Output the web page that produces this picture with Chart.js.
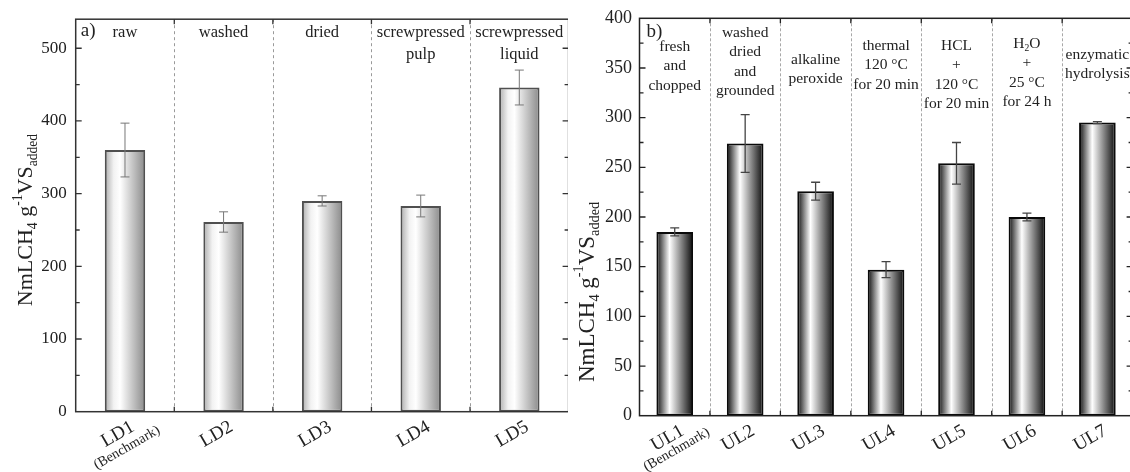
<!DOCTYPE html>
<html lang="en">
<head>
<meta charset="UTF-8">
<title>Methane yield - LD and UL pretreatments</title>
<script src="https://cdn.jsdelivr.net/npm/chart.js"></script>
<style>
    body { margin: 0; background: #fff; }
    #wrap { position: relative; width: 1130px; height: 472px; overflow: hidden; background: #fff; }
    #chartA { position: absolute; left: 0; top: 0; }
    #chartB { position: absolute; left: 568px; top: 0; background: #fff; }
</style>
</head>
<body>
<div id="wrap">
    <canvas id="chartA" width="570" height="472"></canvas>
    <canvas id="chartB" width="566" height="472"></canvas>
</div>
<script>
// panel a) - LD samples
const catsA = ['LD1', 'LD2', 'LD3', 'LD4', 'LD5'];
const valuesA = [360, 261, 290, 283, 446];
const errorsA = [37, 14, 7, 15, 24];
const notesA = [['raw'], ['washed'], ['dried'], ['screwpressed', 'pulp'], ['screwpressed', 'liquid']];
const yTicksA = { min: 0, max: 540, step: 100, minor: 50 };

// panel b) - UL samples
const catsB = ['UL1', 'UL2', 'UL3', 'UL4', 'UL5', 'UL6', 'UL7'];
const valuesB = [185, 274, 226, 147, 254, 200, 295];
const errorsB = [4, 29, 9, 8, 21, 4, 1];
const notesB = [
    ['fresh', 'and', 'chopped'],
    ['washed', 'dried', 'and', 'grounded'],
    ['alkaline', 'peroxide'],
    ['thermal', '120 °C', 'for 20 min'],
    ['HCL', '+', '120 °C', 'for 20 min'],
    ['H_2O', '+', '25 °C', 'for 24 h'],
    ['enzymatic', 'hydrolysis']
];
const yTicksB = { min: 0, max: 400, step: 50, minor: 25 };

const benchmarkNote = '(Benchmark)';
const yTitle = 'NmLCH_4 g^{-1}VS_{added}';

// first-line offsets of the notes above the bars
const noteTopA = [33, 33, 33, 33, 33];
const noteTopB = [47, 33, 60, 46, 46, 44, 55];

const SERIF = 'Liberation Serif, Times New Roman, serif';

// "_x" / "_{..}" -> subscript, "^x" / "^{..}" -> superscript
function parseRich(str) {
    const segs = [];
    let buf = '', i = 0;
    while (i < str.length) {
        const c = str[i];
        if (c === '_' || c === '^') {
            if (buf) { segs.push({ t: buf, s: 0 }); buf = ''; }
            let t;
            if (str[i + 1] === '{') {
                const j = str.indexOf('}', i);
                t = str.slice(i + 2, j);
                i = j + 1;
            } else {
                t = str[i + 1];
                i += 2;
            }
            segs.push({ t: t, s: c === '_' ? 1 : 2 });
        } else {
            buf += c;
            i++;
        }
    }
    if (buf) segs.push({ t: buf, s: 0 });
    return segs;
}

// draws rich text centred on (x, y)
function drawRich(ctx, str, x, y, size) {
    const segs = parseRich(str);
    const small = size * 0.62;
    let total = 0;
    segs.forEach(function (s) {
        ctx.font = (s.s ? small : size) + 'px ' + SERIF;
        s.w = ctx.measureText(s.t).width;
        total += s.w;
    });
    let cx = x - total / 2;
    ctx.textAlign = 'left';
    ctx.textBaseline = 'middle';
    segs.forEach(function (s) {
        ctx.font = (s.s ? small : size) + 'px ' + SERIF;
        let dy = 0;
        if (s.s === 1) dy = size * 0.32;
        if (s.s === 2) dy = -size * 0.36;
        ctx.fillText(s.t, cx, y + dy);
        cx += s.w;
    });
}

const decoPlugin = {
    id: 'deco',
    beforeDatasetsDraw(chart, args, o) {
        const ctx = chart.ctx, a = chart.chartArea, x = chart.scales.x;
        const step = x.getPixelForValue(1) - x.getPixelForValue(0);
        ctx.save();
        ctx.strokeStyle = o.dashColor;
        ctx.lineWidth = 1;
        ctx.setLineDash(o.dash);
        for (let i = 0; i < x.ticks.length - 1; i++) {
            const bx = Math.round(x.getPixelForValue(i) + step / 2) + 0.5;
            ctx.beginPath();
            ctx.moveTo(bx, a.top);
            ctx.lineTo(bx, a.bottom);
            ctx.stroke();
        }
        ctx.restore();
    },
    afterDatasetsDraw(chart, args, o) {
        const ctx = chart.ctx, a = chart.chartArea;
        const x = chart.scales.x, y = chart.scales.y;
        const step = x.getPixelForValue(1) - x.getPixelForValue(0);
        ctx.save();

        // error bars
        ctx.strokeStyle = o.errColor;
        ctx.lineWidth = o.errWidth;
        o.values.forEach(function (v, i) {
            const cx = x.getPixelForValue(i);
            const y1 = y.getPixelForValue(v + o.errors[i]);
            const y2 = y.getPixelForValue(v - o.errors[i]);
            ctx.beginPath();
            ctx.moveTo(cx, y1); ctx.lineTo(cx, y2);
            ctx.moveTo(cx - o.cap, y1); ctx.lineTo(cx + o.cap, y1);
            ctx.moveTo(cx - o.cap, y2); ctx.lineTo(cx + o.cap, y2);
            ctx.stroke();
        });

        // frame
        ctx.strokeStyle = o.frameColor;
        ctx.lineWidth = 1.5;
        ctx.strokeRect(a.left, a.top, a.right - a.left, a.bottom - a.top);

        // inward ticks on the value axes
        ctx.lineWidth = 1.3;
        ctx.beginPath();
        for (let v = o.yt.min; v <= o.yt.max; v += o.yt.minor) {
            const py = y.getPixelForValue(v);
            if (py < a.top + 1 || py > a.bottom - 1) continue;
            const len = (v % o.yt.step === 0) ? 6 : 4;
            ctx.moveTo(a.left, py); ctx.lineTo(a.left + len, py);
            ctx.moveTo(a.right, py); ctx.lineTo(a.right - len, py);
        }
        // ticks at the category borders, top and bottom
        for (let i = 0; i < x.ticks.length - 1; i++) {
            const bx = x.getPixelForValue(i) + step / 2;
            ctx.moveTo(bx, a.bottom); ctx.lineTo(bx, a.bottom - 5);
            ctx.moveTo(bx, a.top); ctx.lineTo(bx, a.top + 5);
        }
        ctx.stroke();

        // notes above each bar
        ctx.fillStyle = '#222';
        o.notes.forEach(function (lines, i) {
            const cx = x.getPixelForValue(i);
            lines.forEach(function (t, k) {
                drawRich(ctx, t, cx, o.noteTop[i] + k * o.lineH, o.noteSize);
            });
        });

        // panel tag
        ctx.font = '19px ' + SERIF;
        ctx.textAlign = 'left';
        ctx.textBaseline = 'middle';
        ctx.fillText(o.tag, a.left + o.tagDx, o.tagY);

        // second line under the first category label
        ctx.save();
        ctx.translate(x.getPixelForValue(0) + 2, a.bottom + o.benchDy);
        ctx.rotate(-Math.PI / 6);
        ctx.font = '14px ' + SERIF;
        ctx.textAlign = 'center';
        ctx.textBaseline = 'middle';
        ctx.fillText(benchmarkNote, 0, 0);
        ctx.restore();

        // value axis title
        ctx.save();
        ctx.translate(o.titleX, o.titleY);
        ctx.rotate(-Math.PI / 2);
        drawRich(ctx, yTitle, 0, 0, o.titleSize);
        ctx.restore();

        ctx.restore();
    }
};

function barGradient(c, n, pct, stops) {
    const chart = c.chart;
    const x = chart.scales.x;
    if (!x || c.dataIndex === undefined || !isFinite(x.width) || x.width <= 0) return '#ddd';
    const cx = x.getPixelForValue(c.dataIndex);
    const half = (x.width / n) * pct / 2;
    if (!isFinite(cx) || !isFinite(half)) return '#ddd';
    const g = chart.ctx.createLinearGradient(cx - half, 0, cx + half, 0);
    stops.forEach(function (s) { g.addColorStop(s[0], s[1]); });
    return g;
}

function makeChart(id, s) {
    return new Chart(document.getElementById(id), {
        type: 'bar',
        data: {
            labels: s.cats,
            datasets: [{
                data: s.values,
                backgroundColor: function (c) { return barGradient(c, s.cats.length, s.barPct, s.stops); },
                borderColor: s.barBorder,
                borderWidth: 2,
                borderSkipped: false,
                categoryPercentage: 1,
                barPercentage: s.barPct
            }]
        },
        options: {
            responsive: false,
            animation: false,
            layout: { padding: { left: 0, top: s.padTop, right: s.padRight, bottom: 0 } },
            plugins: {
                legend: { display: false },
                tooltip: { enabled: false },
                deco: s.deco
            },
            scales: {
                x: {
                    grid: { display: false, drawTicks: false },
                    border: { display: false },
                    ticks: {
                        autoSkip: false,
                        minRotation: 30,
                        maxRotation: 30,
                        padding: s.xPad,
                        labelOffset: s.xOffset,
                        color: '#222',
                        font: { family: SERIF, size: 19 }
                    },
                    afterFit: function (scale) { scale.height = s.xHeight; }
                },
                y: {
                    min: s.yt.min,
                    max: s.yt.max,
                    grid: { display: false, drawTicks: false },
                    border: { display: false },
                    ticks: {
                        stepSize: s.yt.step,
                        includeBounds: false,
                        padding: s.yPad,
                        color: '#222',
                        font: { family: SERIF, size: s.yFont }
                    },
                    afterFit: function (scale) { scale.width = s.yWidth; }
                }
            }
        },
        plugins: [decoPlugin]
    });
}

makeChart('chartA', {
    cats: catsA, values: valuesA, yt: yTicksA,
    barPct: 0.41,
    stops: [[0, '#acacac'], [0.22, '#f2f2f2'], [0.38, '#ffffff'], [1, '#8a8a8a']],
    barBorder: '#505050',
    padTop: 13.5, padRight: 1.4, xHeight: 60.3, yWidth: 75.7,
    xPad: 4, xOffset: 8, yPad: 9, yFont: 17,
    deco: {
        values: valuesA, errors: errorsA, notes: notesA, noteTop: noteTopA,
        lineH: 22, noteSize: 16.5, yt: yTicksA,
        errColor: '#777', errWidth: 1, cap: 4.5,
        frameColor: '#333', dashColor: '#9a9a9a', dash: [3, 3],
        tag: 'a)', tagDx: 5, tagY: 31, benchDy: 36,
        titleX: 26, titleY: 220, titleSize: 22
    }
});

makeChart('chartB', {
    cats: catsB, values: valuesB, yt: yTicksB,
    barPct: 0.52,
    stops: [[0, '#0a0a0a'], [0.36, '#ffffff'], [1, '#0a0a0a']],
    barBorder: '#0a0a0a',
    padTop: 17.3, padRight: 1.4, xHeight: 56.3, yWidth: 71.5,
    xPad: 4, xOffset: 8, yPad: 7.5, yFont: 18,
    deco: {
        values: valuesB, errors: errorsB, notes: notesB, noteTop: noteTopB,
        lineH: 19.4, noteSize: 15.5, yt: yTicksB,
        errColor: '#444', errWidth: 1.3, cap: 4.5,
        frameColor: '#222', dashColor: '#a8a8a8', dash: [3, 2],
        tag: 'b)', tagDx: 7, tagY: 32, benchDy: 34,
        titleX: 20, titleY: 292, titleSize: 23
    }
});
</script>
</body>
</html>
